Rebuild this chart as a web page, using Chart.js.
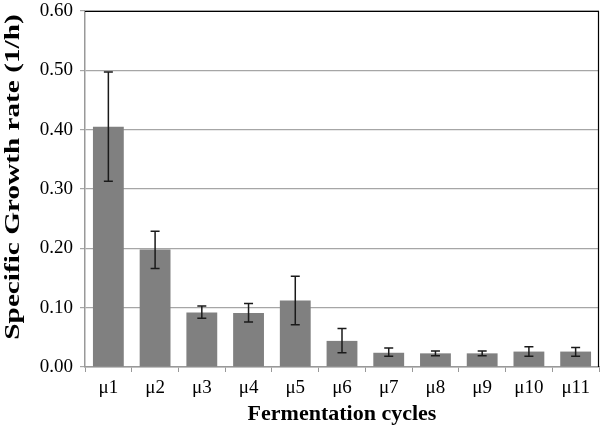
<!DOCTYPE html>
<html>
<head>
<meta charset="utf-8">
<script src="https://cdn.jsdelivr.net/npm/chart.js@4"></script>
<style>
    html, body { margin: 0; padding: 0; background: #fff; }
    #wrap { width: 600px; height: 428px; }
</style>
</head>
<body>
<div id="wrap"><canvas id="chart"></canvas></div>
<script>
// values
const cycles = ['μ1', 'μ2', 'μ3', 'μ4', 'μ5', 'μ6', 'μ7', 'μ8', 'μ9', 'μ10', 'μ11'];
const growthRate = [0.405, 0.198, 0.092, 0.091, 0.112, 0.044, 0.024, 0.023, 0.023, 0.026, 0.026];
const errLow = [0.313, 0.166, 0.082, 0.076, 0.071, 0.024, 0.018, 0.019, 0.019, 0.018, 0.018];
const errHigh = [0.497, 0.229, 0.103, 0.107, 0.153, 0.065, 0.032, 0.027, 0.027, 0.034, 0.033];
const yTicks = [0, 0.1, 0.2, 0.3, 0.4, 0.5, 0.6];
const yTitle = 'Specific Growth rate (1/h)';

const serif = "'Liberation Serif', 'DejaVu Serif', serif";

// whiskers drawn with the chart's own scales
const errorBars = {
    id: 'errorBars',
    afterDatasetsDraw(chart) {
        const { ctx, scales: { x, y } } = chart;
        ctx.save();
        ctx.strokeStyle = '#1a1a1a';
        ctx.lineWidth = 1.5;
        cycles.forEach((c, i) => {
            const px = x.getPixelForValue(i);
            const top = y.getPixelForValue(errHigh[i]);
            const bot = y.getPixelForValue(errLow[i]);
            ctx.beginPath();
            ctx.moveTo(px, top); ctx.lineTo(px, bot);
            ctx.moveTo(px - 4.5, top); ctx.lineTo(px + 4.5, top);
            ctx.moveTo(px - 4.5, bot); ctx.lineTo(px + 4.5, bot);
            ctx.stroke();
        });
        ctx.restore();
    }
};

// black frame on top and right, plus the (slightly stretched) y title
const frame = {
    id: 'frame',
    afterDraw(chart) {
        const { ctx, chartArea: a } = chart;
        ctx.save();
        ctx.strokeStyle = '#000';
        ctx.lineWidth = 1.2;
        ctx.beginPath();
        ctx.moveTo(a.left, a.top + 0.5);
        ctx.lineTo(a.right - 0.5, a.top + 0.5);
        ctx.lineTo(a.right - 0.5, a.bottom);
        ctx.stroke();

        ctx.translate(19, 177);
        ctx.rotate(-Math.PI / 2);
        ctx.scale(1.33, 1);
        ctx.fillStyle = '#000';
        ctx.font = 'bold 22px ' + serif;
        ctx.textAlign = 'center';
        ctx.textBaseline = 'alphabetic';
        ctx.fillText(yTitle, 0, 0);
        ctx.restore();
    }
};

new Chart(document.getElementById('chart'), {
    type: 'bar',
    data: {
        labels: cycles,
        datasets: [{
            data: growthRate,
            backgroundColor: '#808080',
            borderWidth: 0,
            categoryPercentage: 1,
            barPercentage: 0.66
        }]
    },
    options: {
        responsive: true,
        maintainAspectRatio: false,
        animation: false,
        layout: { padding: { top: 11, right: 1, left: 0, bottom: 0 } },
        plugins: { legend: { display: false }, tooltip: { enabled: false } },
        scales: {
            x: {
                afterFit: s => { s.height = 61; },
                grid: { drawOnChartArea: false, tickLength: 5, color: '#999', lineWidth: 1 },
                border: { color: '#999', width: 1.5 },
                ticks: { color: '#000', font: { family: serif, size: 19 }, padding: 5, maxRotation: 0 },
                title: {
                    display: true, text: 'Fermentation cycles', color: '#000',
                    font: { family: serif, size: 22, weight: 'bold' }, padding: { top: 2, bottom: 0 }
                }
            },
            y: {
                min: 0, max: 0.6,
                afterFit: s => { s.width = 85; s.paddingTop = 0; s.paddingBottom = 0; },
                afterBuildTicks: s => { s.ticks = yTicks.map(v => ({ value: v })); },
                grid: { color: '#a6a6a6', lineWidth: 1.2, tickLength: 5 },
                border: { color: '#999', width: 1.5 },
                ticks: {
                    color: '#000', font: { family: serif, size: 19 }, padding: 7,
                    callback: v => v.toFixed(2)
                }
            }
        }
    },
    plugins: [errorBars, frame]
});
</script>
</body>
</html>
